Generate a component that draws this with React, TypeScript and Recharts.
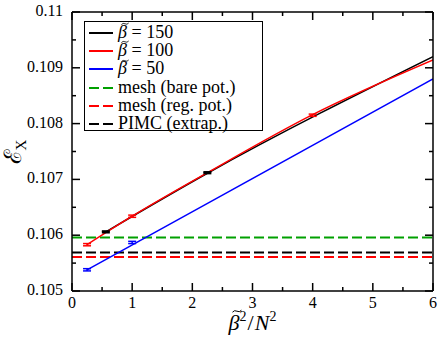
import React from 'react';
import { ComposedChart, Line, Scatter, ErrorBar, XAxis, YAxis, ReferenceLine } from 'recharts';

const xMajorTicks = [0, 1, 2, 3, 4, 5, 6];
const xMinorTicks = [0.5, 1.5, 2.5, 3.5, 4.5, 5.5];
const yMajorTicks = [0.105, 0.106, 0.107, 0.108, 0.109, 0.11];
const yMinorTicks = [0.1055, 0.1065, 0.1075, 0.1085, 0.1095];
const xTicks = [...xMajorTicks, ...xMinorTicks].sort((a, b) => a - b);
const yTicks = [...yMajorTicks, ...yMinorTicks].sort((a, b) => a - b);

// PIMC points (x = beta^2 / N^2) with their error bars
const beta150Points = [
  { x: 0.5625, y: 0.10606, err: 0.000012 },
  { x: 2.25, y: 0.10712, err: 0.000012 },
];
const beta100Points = [
  { x: 0.25, y: 0.10583, err: 0.00002 },
  { x: 1, y: 0.10634, err: 0.00002 },
  { x: 4, y: 0.10815, err: 0.00002 },
];
const beta50Points = [
  { x: 0.25, y: 0.10538, err: 0.00002 },
  { x: 1, y: 0.10587, err: 0.00002 },
];

// fitted curves
const beta150Fit = [
  { x: 0.5625, y: 0.10606 },
  { x: 2.25, y: 0.10711 },
  { x: 6, y: 0.1092 },
];
const beta100Fit = [
  { x: 0.25, y: 0.10583 },
  { x: 1, y: 0.10634 },
  { x: 2.25, y: 0.10712 },
  { x: 4, y: 0.10816 },
  { x: 6, y: 0.10914 },
];
const beta50Fit = [
  { x: 0.25, y: 0.10538 },
  { x: 6, y: 0.1088 },
];

const meshBare = 0.10596;
const meshReg = 0.10561;
const pimcExtrap = 0.10569;

const betaValues = [150, 100, 50];
const meshLabels = ['mesh (bare pot.)', 'mesh (reg. pot.)', 'PIMC (extrap.)'];

const GREEN = '#00a000';
const RED = '#ff0000';
const BLUE = '#0000ff';
const FONT = '"Liberation Serif", "Times New Roman", "DejaVu Serif", serif';

const W = 443;
const H = 342;
const margin = { top: 11, right: 9, bottom: 0, left: 0 };

const tickText = { fontFamily: FONT, fontSize: 16, fill: '#000' };

const XTickBottom = (props: any) => {
  const { x, y, payload } = props;
  const major = xMajorTicks.includes(payload.value);
  return (
    <g>
      <line x1={x} x2={x} y1={y} y2={y - (major ? 8 : 4)} stroke="#000" strokeWidth={1.5} />
      {major && (
        <text x={x} y={y + 17} textAnchor="middle" {...tickText}>
          {payload.value}
        </text>
      )}
    </g>
  );
};

const XTickTop = (props: any) => {
  const { x, y, payload } = props;
  const major = xMajorTicks.includes(payload.value);
  return <line x1={x} x2={x} y1={y} y2={y + (major ? 8 : 4)} stroke="#000" strokeWidth={1.5} />;
};

const YTickLeft = (props: any) => {
  const { x, y, payload } = props;
  const major = yMajorTicks.includes(payload.value);
  return (
    <g>
      <line x1={x} x2={x + (major ? 8 : 4)} y1={y} y2={y} stroke="#000" strokeWidth={1.5} />
      {major && (
        <text x={x - 9} y={y + 4} textAnchor="end" {...tickText}>
          {String(payload.value)}
        </text>
      )}
    </g>
  );
};

const YTickRight = (props: any) => {
  const { x, y, payload } = props;
  const major = yMajorTicks.includes(payload.value);
  return <line x1={x} x2={x - (major ? 8 : 4)} y1={y} y2={y} stroke="#000" strokeWidth={1.5} />;
};

const noShape = () => <g />;

// beta with a small tilde drawn on top
const BetaTilde = ({ size }: { size: number }) => (
  <span style={{ position: 'relative', display: 'inline-block', fontStyle: 'italic' }}>
    β
    <svg
      width={size * 0.45}
      height={size * 0.2}
      viewBox="0 0 10 4"
      style={{ position: 'absolute', left: size * 0.14, top: -size * 0.05 }}
    >
      <path d="M0.5 3 Q2.5 0.5 5 2 T9.5 1" fill="none" stroke="#000" strokeWidth={1} />
    </svg>
  </span>
);

const legendRows = [
  { label: <><BetaTilde size={18} /> = {betaValues[0]}</>, color: '#000', dashed: false },
  { label: <><BetaTilde size={18} /> = {betaValues[1]}</>, color: RED, dashed: false },
  { label: <><BetaTilde size={18} /> = {betaValues[2]}</>, color: BLUE, dashed: false },
  { label: meshLabels[0], color: GREEN, dashed: true },
  { label: meshLabels[1], color: RED, dashed: true },
  { label: meshLabels[2], color: '#000', dashed: true },
];

const ChartLegend = () => (
  <div
    style={{
      position: 'absolute',
      left: 84,
      top: 21,
      width: 179,
      height: 110,
      border: '1.5px solid #000',
      background: '#fff',
      fontFamily: FONT,
      fontSize: 18,
      boxSizing: 'border-box',
    }}
  >
    {legendRows.map((r, i) => (
      <div
        key={i}
        style={{
          position: 'absolute',
          left: 0,
          top: 1 + i * 18.2,
          height: 19,
          display: 'flex',
          alignItems: 'center',
          whiteSpace: 'nowrap',
          lineHeight: '19px',
        }}
      >
        <svg width={33} height={19} style={{ flex: 'none' }}>
          <line x1={4} x2={28} y1={10} y2={10} stroke={r.color} strokeWidth={2} strokeDasharray={r.dashed ? '10 4' : undefined} />
        </svg>
        <span>{r.label}</span>
      </div>
    ))}
  </div>
);

export default function App() {
  return (
    <div style={{ position: 'absolute', left: 0, top: 0, width: W, height: H, background: '#fff' }}>
      <ComposedChart width={W} height={H} margin={margin}>
        <XAxis
          xAxisId={0}
          dataKey="x"
          type="number"
          domain={[0, 6]}
          allowDataOverflow
          ticks={xTicks}
          interval={0}
          tick={<XTickBottom />}
          tickLine={false}
          tickSize={0}
          tickMargin={0}
          height={51}
          axisLine={{ stroke: '#000', strokeWidth: 1.5 }}
        />
        <XAxis
          xAxisId="top"
          orientation="top"
          dataKey="x"
          type="number"
          domain={[0, 6]}
          allowDataOverflow
          ticks={xTicks}
          interval={0}
          tick={<XTickTop />}
          tickLine={false}
          tickSize={0}
          tickMargin={0}
          height={1}
          axisLine={{ stroke: '#000', strokeWidth: 1.5 }}
        />
        <YAxis
          yAxisId={0}
          type="number"
          domain={[0.105, 0.11]}
          allowDataOverflow
          ticks={yTicks}
          interval={0}
          tick={<YTickLeft />}
          tickLine={false}
          tickSize={0}
          tickMargin={0}
          width={72}
          axisLine={{ stroke: '#000', strokeWidth: 1.5 }}
        />
        <YAxis
          yAxisId="right"
          orientation="right"
          type="number"
          domain={[0.105, 0.11]}
          allowDataOverflow
          ticks={yTicks}
          interval={0}
          tick={<YTickRight />}
          tickLine={false}
          tickSize={0}
          tickMargin={0}
          width={1}
          axisLine={{ stroke: '#000', strokeWidth: 1.5 }}
        />

        <ReferenceLine y={meshBare} stroke={GREEN} strokeWidth={2} strokeDasharray="10 4" />
        <ReferenceLine y={pimcExtrap} stroke="#000" strokeWidth={2} strokeDasharray="10 4" />
        <ReferenceLine y={meshReg} stroke={RED} strokeWidth={2} strokeDasharray="10 4" />

        <Line data={beta150Fit} dataKey="y" type="monotone" stroke="#000" strokeWidth={1.5} dot={false} isAnimationActive={false} />
        <Line data={beta100Fit} dataKey="y" type="monotone" stroke={RED} strokeWidth={1.5} dot={false} isAnimationActive={false} />
        <Line data={beta50Fit} dataKey="y" type="linear" stroke={BLUE} strokeWidth={1.5} dot={false} isAnimationActive={false} />

        <Scatter data={beta150Points} dataKey="y" shape={noShape} isAnimationActive={false}>
          <ErrorBar dataKey="err" direction="y" width={4} stroke="#000" strokeWidth={2} isAnimationActive={false} />
        </Scatter>
        <Scatter data={beta100Points} dataKey="y" shape={noShape} isAnimationActive={false}>
          <ErrorBar dataKey="err" direction="y" width={4} stroke={RED} strokeWidth={1.5} isAnimationActive={false} />
        </Scatter>
        <Scatter data={beta50Points} dataKey="y" shape={noShape} isAnimationActive={false}>
          <ErrorBar dataKey="err" direction="y" width={4} stroke={BLUE} strokeWidth={1.5} isAnimationActive={false} />
        </Scatter>
      </ComposedChart>

      <ChartLegend />

      <div
        style={{
          position: 'absolute',
          left: 72,
          width: 361,
          top: 310,
          textAlign: 'center',
          fontFamily: FONT,
          fontSize: 22,
          lineHeight: '26px',
        }}
      >
        <BetaTilde size={22} />
        <span style={{ fontSize: 14, position: 'relative', top: -9 }}>2</span>
        <span style={{ margin: '0 1px' }}>/</span>
        <i>N</i>
        <span style={{ fontSize: 14, position: 'relative', top: -9 }}>2</span>
      </div>

      <div
        style={{
          position: 'absolute',
          left: 14,
          top: 152,
          transform: 'translate(-50%, -50%) rotate(-90deg)',
          fontFamily: FONT,
          fontSize: 24,
          lineHeight: '28px',
          whiteSpace: 'nowrap',
        }}
      >
        ℰ<span style={{ fontSize: 15, position: 'relative', top: 5 }}>X</span>
      </div>
    </div>
  );
}
